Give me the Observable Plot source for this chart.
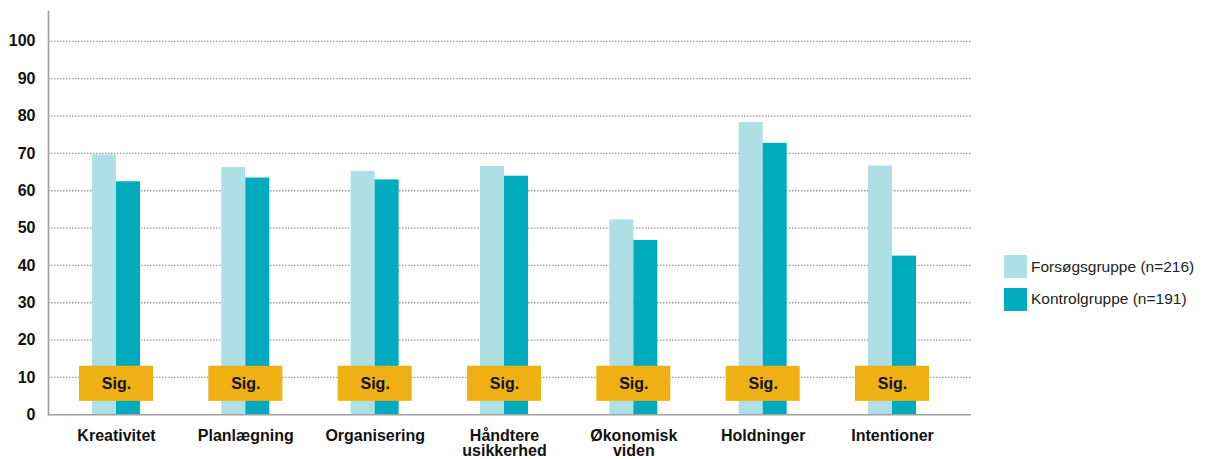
<!DOCTYPE html>
<html><head><meta charset="utf-8">
<script src="https://cdn.jsdelivr.net/npm/d3@7"></script>
<script src="https://cdn.jsdelivr.net/npm/@observablehq/plot@0.6"></script>
<style>
body{margin:0;background:#fff;}
#wrap{position:relative;width:1210px;height:459px;overflow:hidden;}
.legend{position:absolute;left:1004px;top:255px;font-family:"Liberation Sans",Arial,sans-serif;font-size:15.5px;color:#222;}
.item{display:flex;align-items:center;height:23px;margin-bottom:9.5px;}
.sw{width:23px;height:23px;margin-right:4px;}
</style></head>
<body><div id="wrap"></div>
<script>
const categories = ["Kreativitet","Planlægning","Organisering","Håndtere usikkerhed","Økonomisk viden","Holdninger","Intentioner"];
const tickLabels = ["Kreativitet","Planlægning","Organisering","Håndtere\nusikkerhed","Økonomisk\nviden","Holdninger","Intentioner"];
const forsoeg = [69.6, 66.2, 65.2, 66.5, 52.2, 78.3, 66.6];
const kontrol = [62.4, 63.4, 62.9, 63.9, 46.7, 72.7, 42.5];
const sigLabels = ["Sig.","Sig.","Sig.","Sig.","Sig.","Sig.","Sig."];
const seriesNames = ["Forsøgsgruppe (n=216)","Kontrolgruppe (n=191)"];
const yTicks = [0,10,20,30,40,50,60,70,80,90,100];
const colors = ["#ADDFE5","#00ABBE"];
const sigColor = "#EFB013";

const font = '"Liberation Sans",Arial,sans-serif';
const rowsF = categories.map((c,i)=>({cat:c, value:forsoeg[i]}));
const rowsK = categories.map((c,i)=>({cat:c, value:kontrol[i]}));
const rowsS = categories.map((c,i)=>({cat:c, label:sigLabels[i]}));

const chart = Plot.plot({
  width: 1210, height: 459,
  marginLeft: 48, marginRight: 239, marginTop: 11, marginBottom: 44.7,
  style: {fontFamily: font, background: "#fff"},
  x: {domain: categories, range: [92, 916], paddingInner: 0.629, paddingOuter: 0, round: false},
  y: {domain: [0, 108], range: [414.3, 11]},
  marks: [
    Plot.gridY(yTicks.filter(d=>d>0), {stroke:"#9a9a9a", strokeOpacity:1, strokeDasharray:"1.5,1.5", strokeWidth:1.3}),
    Plot.barY(rowsF, {x:"cat", y:"value", fill:colors[0], insetRight:24, insetLeft:0}),
    Plot.barY(rowsK, {x:"cat", y:"value", fill:colors[1], insetLeft:24, insetRight:0}),
    Plot.ruleY([0], {stroke:"#a0a0a0", strokeWidth:1.6}),
    Plot.frame({anchor:"left", stroke:"#a0a0a0", strokeWidth:1.6}),
    Plot.barY(rowsS, {x:"cat", y1:3.6, y2:13, fill:sigColor, insetLeft:-13, insetRight:-13}),
    Plot.text(rowsS, {x:"cat", y:8.3, text:"label", fontSize:16, fontWeight:"bold", fill:"#111"}),
    Plot.axisY({ticks: yTicks, tickSize:0, tickPadding:13, fontSize:16, fontWeight:"bold", fill:"#111", label:null}),
    Plot.axisX({tickSize:0, tickPadding:16, fontSize:16, fontWeight:"bold", fill:"#111", label:null, lineHeight:0.93,
      tickFormat: d => tickLabels[categories.indexOf(d)]})
  ]
});
const wrap = document.getElementById("wrap");
wrap.appendChild(chart);
const leg = document.createElement("div");
leg.className = "legend";
seriesNames.forEach((n,i)=>{
  const it = document.createElement("div"); it.className="item";
  const sw = document.createElement("div"); sw.className="sw"; sw.style.background=colors[i];
  const t = document.createElement("span"); t.textContent=n;
  it.appendChild(sw); it.appendChild(t); leg.appendChild(it);
});
wrap.appendChild(leg);
</script>
</body></html>
